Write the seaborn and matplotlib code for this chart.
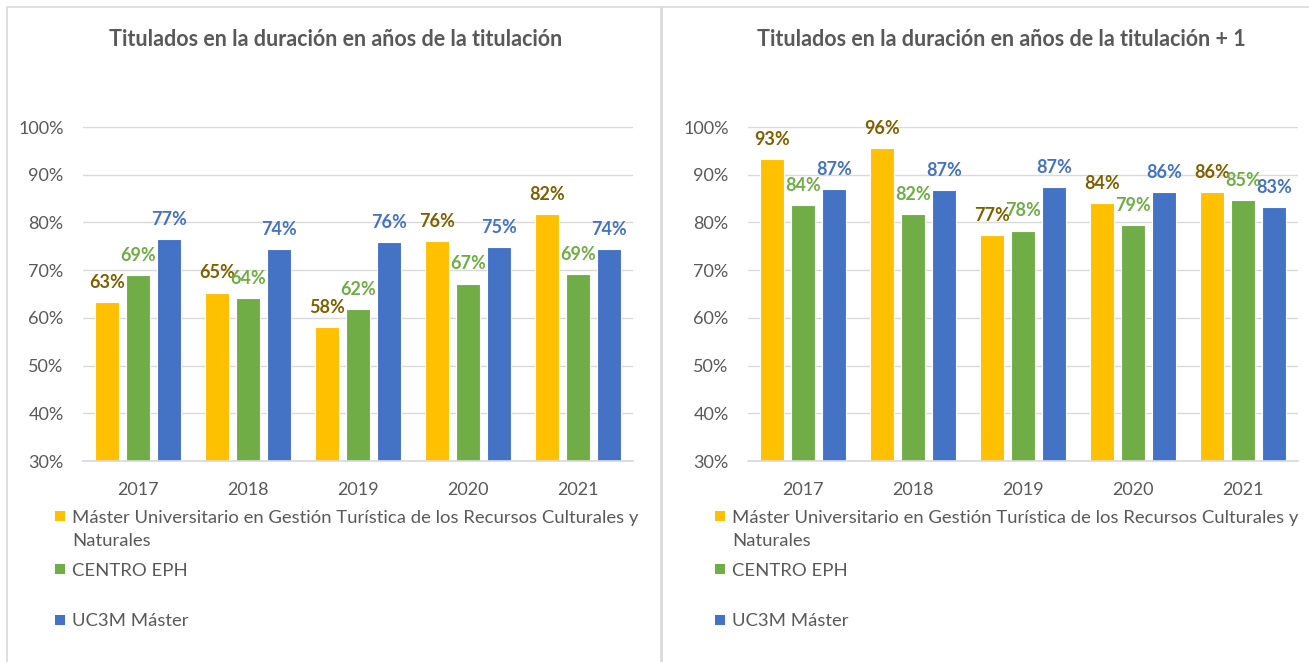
import pandas as pd
import seaborn as sns
import matplotlib.pyplot as plt
from matplotlib.patches import Rectangle

years = ["2017", "2018", "2019", "2020", "2021"]
series = ["Máster Universitario en Gestión Turística de los Recursos Culturales y Naturales",
          "CENTRO EPH", "UC3M Máster"]
# same names, wrapped as in the original legend
legend_lines = [["Máster Universitario en Gestión Turística de los Recursos Culturales y",
                 "Naturales"],
                ["CENTRO EPH"], ["UC3M Máster"]]

# % titulados en la duración de la titulación
master_n = [63.4, 65.3, 58.1, 76.1, 81.8]
centro_n = [69.0, 64.1, 61.9, 67.2, 69.2]
uc3m_n = [76.6, 74.4, 75.8, 74.8, 74.4]

# % titulados en la duración + 1
master_n1 = [93.3, 95.6, 77.3, 84.0, 86.4]
centro_n1 = [83.6, 81.7, 78.3, 79.4, 84.7]
uc3m_n1 = [87.0, 86.8, 87.4, 86.4, 83.3]

titles = ["Titulados en la duración en años de la titulación",
          "Titulados en la duración en años de la titulación + 1"]
yticks = [30, 40, 50, 60, 70, 80, 90, 100]

bar_colors = ["#FFC000", "#70AD47", "#4472C4"]
label_colors = ["#7F6000", "#70AD47", "#4472C4"]
grey = "#595959"
line_grey = "#D9D9D9"


def long_df(a, b, c):
    df = pd.DataFrame({"year": years, series[0]: a, series[1]: b, series[2]: c})
    return df.melt(id_vars="year", var_name="serie", value_name="pct")


sns.set_theme(style="white")
plt.rcParams["font.family"] = ["Lato", "DejaVu Sans"]

W, H = 1309, 662
fig = plt.figure(figsize=(W / 100, H / 100), dpi=100)


def px(x0, y0, x1, y1):
    # pixel box -> figure fraction [left, bottom, width, height]
    return [x0 / W, 1 - y1 / H, (x1 - x0) / W, (y1 - y0) / H]


panels = [
    dict(df=long_df(master_n, centro_n, uc3m_n), pos=px(83, 127, 633, 461),
         frame=(7, 661), title_x=336, leg_x=55),
    dict(df=long_df(master_n1, centro_n1, uc3m_n1), pos=px(748, 127, 1298, 461),
         frame=(662, 1320), title_x=1001, leg_x=715),
]
legend_rows = [516, 569, 620]

for i, p in enumerate(panels):
    fx0, fx1 = p["frame"]
    fig.patches.append(Rectangle((fx0 / W, -0.1), (fx1 - fx0) / W, 1.1 - 7 / H,
                                 transform=fig.transFigure, fill=False,
                                 edgecolor=line_grey, linewidth=1.2))

    ax = fig.add_axes(p["pos"])
    sns.barplot(data=p["df"], x="year", y="pct", hue="serie", palette=bar_colors,
                saturation=1, width=0.845, gap=0.2, edgecolor="white", linewidth=0.8,
                legend=False, ax=ax)

    for cont, col in zip(ax.containers, label_colors):
        labels = [f"{round(v)}%" for v in cont.datavalues]
        ax.bar_label(cont, labels=labels, padding=8, color=col,
                     fontweight="bold", fontsize=13)

    ax.set_ylim(30, 100)
    ax.set_yticks(yticks)
    ax.set_yticklabels([f"{t}%" for t in yticks])
    ax.yaxis.grid(True, color=line_grey, linewidth=1)
    ax.set_axisbelow(True)
    for s in ["top", "right", "left"]:
        ax.spines[s].set_visible(False)
    ax.spines["bottom"].set_color(line_grey)
    ax.tick_params(axis="y", length=0, labelsize=13, colors=grey, pad=14)
    ax.tick_params(axis="x", length=0, labelsize=13, colors=grey, pad=15)
    ax.set_xlabel("")
    ax.set_ylabel("")

    fig.text(p["title_x"] / W, 1 - 40 / H, titles[i], ha="center", va="center",
             fontsize=15.5, fontweight="bold", color=grey)

    # legend below the plot, one entry per row
    for lines, col, ry in zip(legend_lines, bar_colors, legend_rows):
        fig.patches.append(Rectangle((p["leg_x"] / W, 1 - (ry + 5) / H), 10 / W, 10 / H,
                                     transform=fig.transFigure, facecolor=col,
                                     edgecolor="none"))
        for k, line in enumerate(lines):
            fig.text((p["leg_x"] + 17) / W, 1 - (ry + 6.5 + 23 * k) / H, line,
                     ha="left", va="baseline", fontsize=13.3, color=grey)

fig.savefig("out.png", dpi=100)
